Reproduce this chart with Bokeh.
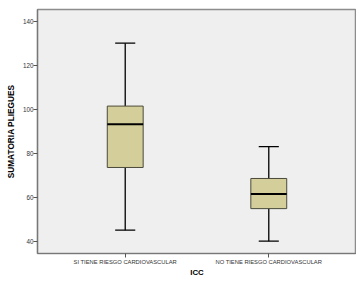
from bokeh.plotting import figure
from bokeh.models import Range1d, FixedTicker
from bokeh.embed import file_html
from bokeh.resources import INLINE

categories = ["SI TIENE RIESGO CARDIOVASCULAR", "NO TIENE RIESGO CARDIOVASCULAR"]
lower_whisker = [45.0, 40.0]
q1 = [73.5, 54.8]
median = [93.2, 61.4]
q3 = [101.4, 68.5]
upper_whisker = [130.0, 83.0]
y_ticks = [40, 60, 80, 100, 120, 140]
x_title = "ICC"
y_title = "SUMATORIA PLIEGUES"

pos = list(range(1, len(categories) + 1))
box_w = 0.25
cap_hw = 0.07
y_lo, y_hi = 34.4, 145.3

p = figure(width=356, height=279, output_backend="svg", toolbar_location=None,
           x_range=Range1d(0.389, 2.611), y_range=Range1d(y_lo, y_hi),
           min_border_left=37, min_border_top=9, min_border_right=0, min_border_bottom=0)
p.background_fill_color = "#EFEFEF"
p.border_fill_color = "white"
p.outline_line_color = "#8c8c8c"
p.outline_line_width = 1.5
p.grid.visible = False

# whiskers
p.segment(x0=pos, y0=lower_whisker, x1=pos, y1=q1, line_color="black", line_width=1.3)
p.segment(x0=pos, y0=q3, x1=pos, y1=upper_whisker, line_color="black", line_width=1.3)
p.segment(x0=[x - cap_hw for x in pos], y0=upper_whisker, x1=[x + cap_hw for x in pos], y1=upper_whisker,
          line_color="black", line_width=1.3)
p.segment(x0=[x - cap_hw for x in pos], y0=lower_whisker, x1=[x + cap_hw for x in pos], y1=lower_whisker,
          line_color="black", line_width=1.3)
# boxes
p.vbar(x=pos, width=box_w, bottom=q1, top=q3, fill_color="#D4CF9A", line_color="#4a4a3a", line_width=1)
p.segment(x0=[x - box_w / 2 for x in pos], y0=median, x1=[x + box_w / 2 for x in pos], y1=median,
          line_color="black", line_width=2)

p.xaxis.ticker = FixedTicker(ticks=pos)
p.xaxis.major_label_overrides = {x: c for x, c in zip(pos, categories)}
p.yaxis.ticker = FixedTicker(ticks=y_ticks)

for ax in (p.xaxis, p.yaxis):
    ax.axis_line_color = "#777777"
    ax.axis_line_width = 1.2
    ax.major_tick_line_color = "#555555"
    ax.major_tick_out = 4
    ax.major_tick_in = 0
    ax.minor_tick_line_color = None
    ax.major_label_text_font = "Liberation Sans"
    ax.major_label_text_color = "#333333"
    ax.axis_label_text_font = "Liberation Sans"
    ax.axis_label_text_font_style = "bold"
    ax.axis_label_text_color = "black"
    ax.major_label_standoff = 0

p.xaxis.major_label_text_font_size = "5.8px"
p.xaxis.major_label_text_line_height = 0.9
p.yaxis.major_label_text_font_size = "6.3px"
p.xaxis.major_label_standoff = 1
p.xaxis.axis_label = x_title
p.xaxis.axis_label_text_font_size = "7.8px"
p.xaxis.axis_label_text_line_height = 0.9
p.xaxis.axis_label_standoff = 0
p.yaxis.axis_label = y_title
p.yaxis.axis_label_text_font_size = "8.3px"
p.yaxis.axis_label_standoff = 4

open("out.html", "w").write(file_html(p, INLINE))
